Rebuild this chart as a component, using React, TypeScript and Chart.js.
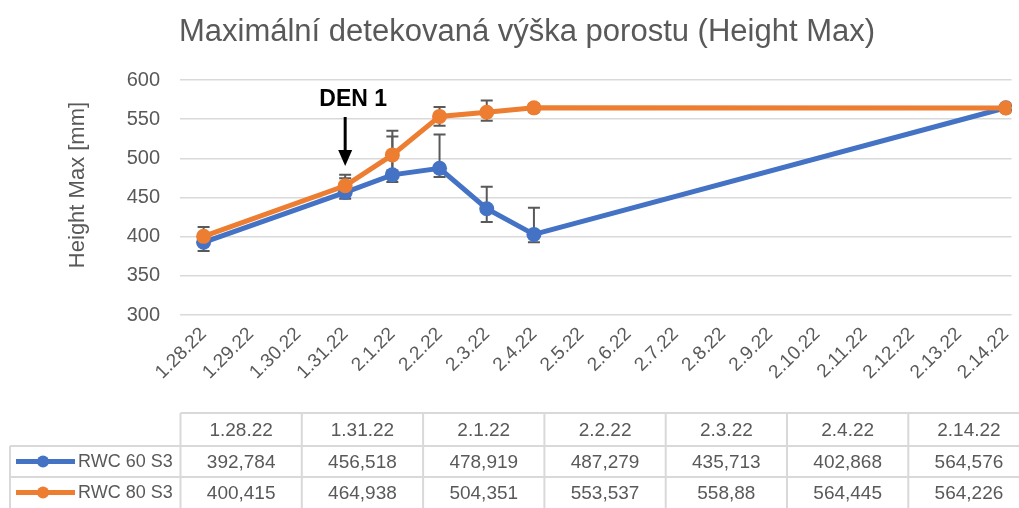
import React, { useEffect, useRef } from 'react';
import { Chart, registerables } from 'chart.js';

Chart.register(...registerables);

const TITLE = 'Maximální detekovaná výška porostu (Height Max)';
const Y_TITLE = 'Height Max [mm]';
const AXIS_DAYS = [
  '1.28.22', '1.29.22', '1.30.22', '1.31.22', '2.1.22', '2.2.22', '2.3.22', '2.4.22', '2.5.22',
  '2.6.22', '2.7.22', '2.8.22', '2.9.22', '2.10.22', '2.11.22', '2.12.22', '2.13.22', '2.14.22',
];
const CATEGORIES = ['1.28.22', '1.31.22', '2.1.22', '2.2.22', '2.3.22', '2.4.22', '2.14.22'];
const SERIES_NAMES = ['RWC 60 S3', 'RWC 80 S3'];
const RWC60 = [392.784, 456.518, 478.919, 487.279, 435.713, 402.868, 564.576];
const RWC80 = [400.415, 464.938, 504.351, 553.537, 558.88, 564.445, 564.226];
const RWC60_ERR_PLUS = [10, 18, 49, 43, 28, 34, 3];
const RWC60_ERR_MINUS = [11, 8, 9, 11, 17, 10, 3];
const RWC80_ERR_PLUS = [12, 14, 31, 12, 15, 5, 3];
const RWC80_ERR_MINUS = [8, 8, 20, 12, 11, 5, 3];
const Y_MIN = 300;
const Y_MAX = 600;
const Y_STEP = 50;
const ANNOTATION_LABEL = 'DEN 1';
const ANNOTATION_CATEGORY = '1.31.22';

const BLUE = '#4472C4';
const ORANGE = '#ED7D31';
const TEXT = '#595959';
const GRID = '#d9d9d9';
const FONT = '"Liberation Sans", Arial, sans-serif';

const fmt = (v: number) => String(v).replace('.', ',');

const errors = [
  { plus: RWC60_ERR_PLUS, minus: RWC60_ERR_MINUS },
  { plus: RWC80_ERR_PLUS, minus: RWC80_ERR_MINUS },
];

const errorBarPlugin = {
  id: 'errorBars',
  beforeDatasetsDraw(chart: any) {
    const ctx = chart.ctx;
    const y = chart.scales.y;
    ctx.save();
    ctx.strokeStyle = TEXT;
    ctx.lineWidth = 2;
    chart.data.datasets.forEach((ds: any, di: number) => {
      const meta = chart.getDatasetMeta(di);
      const err = errors[ds.errIndex];
      meta.data.forEach((pt: any, i: number) => {
        const v = ds.data[i].y;
        const top = y.getPixelForValue(v + err.plus[i]);
        const bot = y.getPixelForValue(v - err.minus[i]);
        ctx.beginPath();
        ctx.moveTo(pt.x, top);
        ctx.lineTo(pt.x, bot);
        ctx.moveTo(pt.x - 6, top);
        ctx.lineTo(pt.x + 6, top);
        ctx.moveTo(pt.x - 6, bot);
        ctx.lineTo(pt.x + 6, bot);
        ctx.stroke();
      });
    });
    ctx.restore();
  },
};

const decorPlugin = {
  id: 'decor',
  afterDraw(chart: any) {
    const ctx = chart.ctx;
    const area = chart.chartArea;
    const xs = chart.scales.x;
    ctx.save();

    // Title
    ctx.fillStyle = TEXT;
    ctx.font = `31px ${FONT}`;
    ctx.textAlign = 'center';
    ctx.textBaseline = 'middle';
    ctx.fillText(TITLE, 527, 32);

    // Y title
    ctx.save();
    ctx.translate(78, 185);
    ctx.rotate(-Math.PI / 2);
    ctx.font = `22px ${FONT}`;
    ctx.fillText(Y_TITLE, 0, 0);
    ctx.restore();

    // Annotation
    const ax = xs.getPixelForValue(AXIS_DAYS.indexOf(ANNOTATION_CATEGORY));
    ctx.fillStyle = '#000';
    ctx.font = `bold 23px ${FONT}`;
    ctx.fillText(ANNOTATION_LABEL, ax + 8, area.top + 20);
    ctx.strokeStyle = '#000';
    ctx.lineWidth = 3;
    ctx.beginPath();
    ctx.moveTo(ax, area.top + 37);
    ctx.lineTo(ax, area.top + 72);
    ctx.stroke();
    ctx.beginPath();
    ctx.moveTo(ax - 7, area.top + 70);
    ctx.lineTo(ax + 7, area.top + 70);
    ctx.lineTo(ax, area.top + 86);
    ctx.closePath();
    ctx.fill();

    // Data table
    const left = 180.5;
    const colW = 121.3;
    const legendLeft = 10;
    const rows = [413, 446, 477, 508];
    const right = 1019;
    ctx.strokeStyle = GRID;
    ctx.lineWidth = 2;
    ctx.beginPath();
    ctx.moveTo(left, rows[0]);
    ctx.lineTo(right, rows[0]);
    ctx.moveTo(legendLeft, rows[1]);
    ctx.lineTo(right, rows[1]);
    ctx.moveTo(legendLeft, rows[2]);
    ctx.lineTo(right, rows[2]);
    ctx.moveTo(legendLeft, rows[1]);
    ctx.lineTo(legendLeft, rows[3]);
    for (let k = 0; k < CATEGORIES.length; k++) {
      const x = left + k * colW;
      ctx.moveTo(x, rows[0]);
      ctx.lineTo(x, rows[3]);
    }
    ctx.stroke();

    ctx.fillStyle = TEXT;
    ctx.font = `19px ${FONT}`;
    ctx.textAlign = 'center';
    ctx.textBaseline = 'middle';
    const seriesVals = [RWC60, RWC80];
    CATEGORIES.forEach((c, k) => {
      const cx = left + k * colW + colW / 2;
      ctx.fillText(c, cx, (rows[0] + rows[1]) / 2 + 1);
      seriesVals.forEach((vals, r) => {
        ctx.fillText(fmt(vals[k]), cx, (rows[r + 1] + rows[r + 2]) / 2 + 1);
      });
    });

    // Legend keys
    const colors = [BLUE, ORANGE];
    SERIES_NAMES.forEach((name, r) => {
      const cy = (rows[r + 1] + rows[r + 2]) / 2;
      ctx.strokeStyle = colors[r];
      ctx.fillStyle = colors[r];
      ctx.lineWidth = 5;
      ctx.beginPath();
      ctx.moveTo(16, cy);
      ctx.lineTo(75, cy);
      ctx.stroke();
      ctx.beginPath();
      ctx.arc(43, cy, 6, 0, Math.PI * 2);
      ctx.fill();
      ctx.fillStyle = TEXT;
      ctx.font = `18px ${FONT}`;
      ctx.textAlign = 'left';
      ctx.fillText(name, 78, cy + 1);
    });

    ctx.restore();
  },
};

export default function App() {
  const canvasRef = useRef<HTMLCanvasElement | null>(null);

  useEffect(() => {
    document.body.style.margin = '0';
    const canvas = canvasRef.current;
    if (!canvas) return;
    const toPoints = (vals: number[]) =>
      CATEGORIES.map((c, i) => ({ x: AXIS_DAYS.indexOf(c), y: vals[i] }));
    const yTicks: number[] = [];
    for (let v = Y_MIN; v <= Y_MAX; v += Y_STEP) yTicks.push(v);

    const chart = new Chart(canvas, {
      type: 'line',
      data: {
        datasets: [
          {
            label: SERIES_NAMES[1],
            data: toPoints(RWC80),
            borderColor: ORANGE,
            backgroundColor: ORANGE,
            pointBackgroundColor: ORANGE,
            borderWidth: 5,
            pointRadius: 7.5,
            pointBorderWidth: 0,
            tension: 0,
            errIndex: 1,
          } as any,
          {
            label: SERIES_NAMES[0],
            data: toPoints(RWC60),
            borderColor: BLUE,
            backgroundColor: BLUE,
            pointBackgroundColor: BLUE,
            borderWidth: 5,
            pointRadius: 7.5,
            pointBorderWidth: 0,
            tension: 0,
            errIndex: 0,
          } as any,
        ],
      },
      options: {
        animation: false,
        responsive: false,
        layout: { padding: { top: 80, left: 0, right: 4, bottom: 108 } },
        plugins: {
          legend: { display: false },
          title: { display: false },
          tooltip: { enabled: false },
        },
        scales: {
          x: {
            type: 'linear',
            min: -0.5,
            max: 17.12,
            afterBuildTicks: (scale: any) => {
              scale.ticks = AXIS_DAYS.map((_, i) => ({ value: i }));
            },
            afterFit: (scale: any) => {
              scale.height = 85;
              scale.paddingLeft = 0;
              scale.paddingRight = 0;
            },
            ticks: {
              autoSkip: false,
              minRotation: 45,
              maxRotation: 45,
              padding: 0,
              color: TEXT,
              font: { family: FONT, size: 19 },
              callback: (v: any) => AXIS_DAYS[v] ?? '',
            },
            grid: { display: false },
            border: { display: false },
          },
          y: {
            min: Y_MIN,
            max: Y_MAX,
            afterBuildTicks: (scale: any) => {
              scale.ticks = yTicks.map((v) => ({ value: v }));
            },
            afterFit: (scale: any) => {
              scale.width = 180;
              scale.paddingTop = 0;
              scale.paddingBottom = 0;
            },
            ticks: {
              padding: 20,
              color: TEXT,
              font: { family: FONT, size: 20 },
            },
            grid: { color: GRID, lineWidth: 1.5, drawTicks: false },
            border: { display: false },
          },
        },
      } as any,
      plugins: [errorBarPlugin, decorPlugin],
    });
    return () => chart.destroy();
  }, []);

  return (
    <div style={{ width: 1019, height: 508 }}>
      <canvas ref={canvasRef} width={1019} height={508} style={{ display: 'block' }} />
    </div>
  );
}
